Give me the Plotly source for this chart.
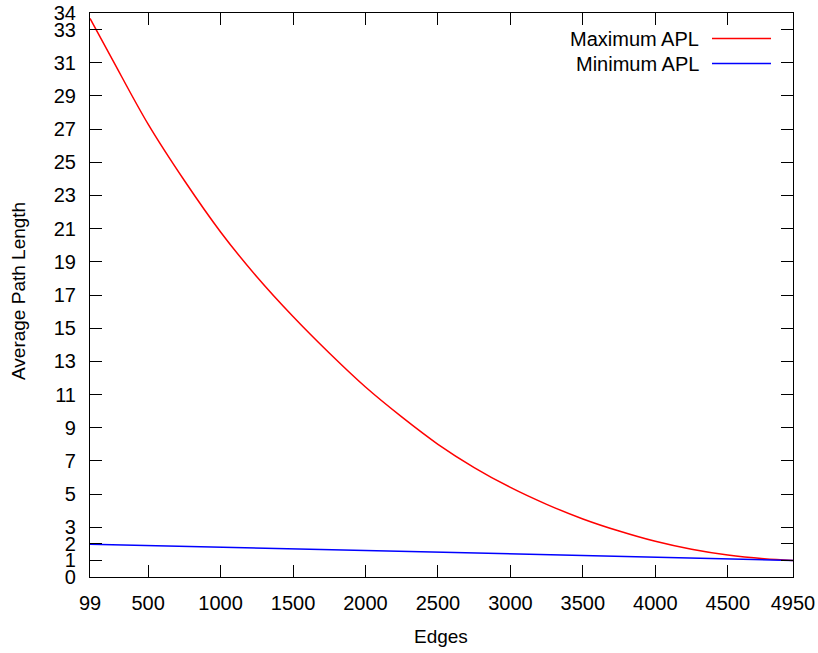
import plotly.graph_objects as go

# Data
edges_max = [99, 250, 500, 750, 1000, 1250, 1500, 1750, 2000, 2250, 2500, 2750,
             3000, 3250, 3500, 3750, 4000, 4250, 4500, 4750, 4950]
apl_max = [33.67, 31.25, 27.3, 23.9, 20.8, 18.1, 15.7, 13.5, 11.45, 9.65, 8.0, 6.6,
           5.4, 4.38, 3.5, 2.77, 2.15, 1.67, 1.32, 1.1, 1.0]

edges_min = [99, 1000, 2000, 3000, 4000, 4950]
apl_min = [1.98, 1.80, 1.60, 1.39, 1.19, 1.0]

x_ticks = [99, 500, 1000, 1500, 2000, 2500, 3000, 3500, 4000, 4500, 4950]
y_ticks = [0, 1, 2, 3, 5, 7, 9, 11, 13, 15, 17, 19, 21, 23, 25, 27, 29, 31, 33, 34]

series_names = ["Maximum APL", "Minimum APL"]
series_colors = ["#ff0000", "#0000ff"]

FONT = "Liberation Sans, Arial, sans-serif"
W, H = 818, 653
ML, MR, MT, MB = 90, 25, 13, 76
PW, PH = W - ML - MR, H - MT - MB

fig = go.Figure()
fig.add_trace(go.Scatter(x=edges_max, y=apl_max, mode="lines", name=series_names[0],
                         line=dict(color=series_colors[0], width=1.5, shape="spline")))
fig.add_trace(go.Scatter(x=edges_min, y=apl_min, mode="lines", name=series_names[1],
                         line=dict(color=series_colors[1], width=1.5)))

axis_common = dict(showline=True, linecolor="black", linewidth=1.2, mirror="ticks",
                   ticks="inside", ticklen=12, tickwidth=1, tickcolor="black",
                   showgrid=False, zeroline=False, automargin=False,
                   tickfont=dict(family=FONT, size=20, color="black"))

fig.update_layout(
    width=W, height=H,
    margin=dict(l=ML, r=MR, t=MT, b=MB),
    paper_bgcolor="white", plot_bgcolor="white",
    showlegend=False,
    font=dict(family=FONT, size=20, color="black"),
    xaxis=dict(range=[99, 4950], tickvals=x_ticks, ticktext=[str(v) for v in x_ticks],
               ticklabelstandoff=8, **axis_common),
    yaxis=dict(range=[0, 34], tickvals=y_ticks, ticktext=[str(v) for v in y_ticks],
               ticklabelstandoff=9, **axis_common),
)

# axis titles
fig.add_annotation(xref="paper", yref="paper", x=(441 - ML) / PW, y=1 - (636 - MT) / PH,
                   text="Edges", showarrow=False, xanchor="center", yanchor="middle",
                   font=dict(family=FONT, size=19, color="black"))
fig.add_annotation(xref="paper", yref="paper", x=(18 - ML) / PW, y=1 - (291 - MT) / PH,
                   text="Average Path Length", showarrow=False, textangle=-90,
                   xanchor="center", yanchor="middle",
                   font=dict(family=FONT, size=19, color="black"))

# gnuplot-style legend: right-aligned text then line sample
legend_rows = [(38.5, 0), (63.5, 1)]
for ypix, i in legend_rows:
    yp = 1 - (ypix - MT) / PH
    fig.add_annotation(xref="paper", yref="paper", x=(701 - ML) / PW, y=yp,
                       text=series_names[i], showarrow=False, xanchor="right", yanchor="middle",
                       font=dict(family=FONT, size=20, color="black"))
    fig.add_shape(type="line", xref="paper", yref="paper",
                  x0=(712 - ML) / PW, x1=(771 - ML) / PW, y0=yp, y1=yp,
                  line=dict(color=series_colors[i], width=1.5))

fig.write_html("out.html", config={"displayModeBar": False},
               post_script="document.body.style.margin='0';document.body.style.overflow='hidden';")
